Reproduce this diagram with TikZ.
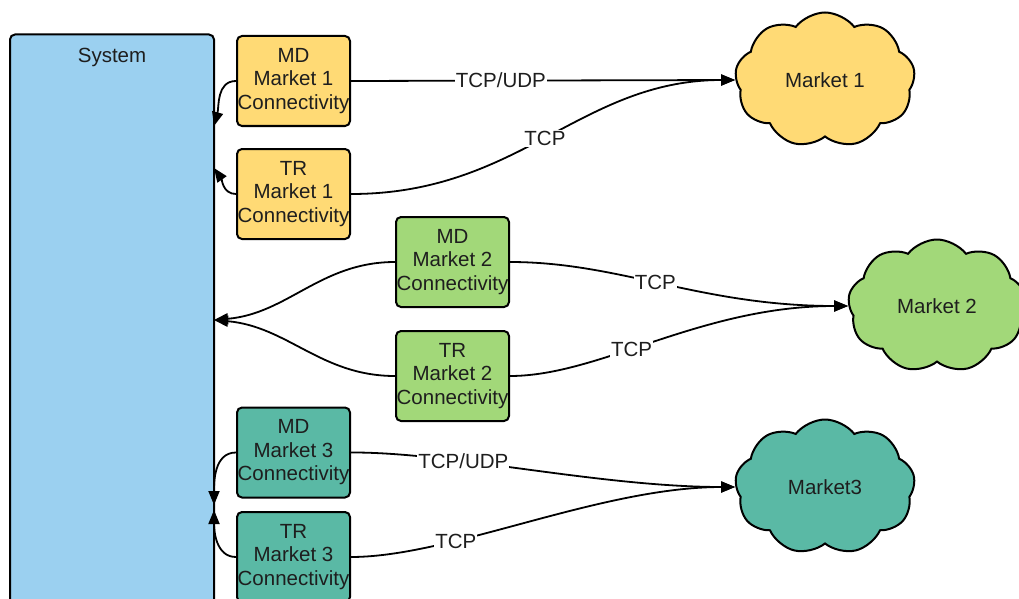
\documentclass[tikz,border=0pt]{standalone}
\usepackage{fontspec}
\setmainfont{Liberation Sans}
\usetikzlibrary{shapes.symbols,arrows.meta}
\definecolor{sysblue}{HTML}{9BD0F0}
\definecolor{myyellow}{HTML}{FFDA75}
\definecolor{mygreen}{HTML}{A2D879}
\definecolor{myteal}{HTML}{5AB9A5}
\definecolor{txt}{HTML}{1E1E1E}
\begin{document}
\begin{tikzpicture}[x=1pt,y=-1pt,
  font=\fontsize{20.5}{23.5}\selectfont, text=txt,
  conbox/.style={draw=black, line width=2pt, rounded corners=5pt, minimum width=113pt, minimum height=90pt, inner sep=0pt, align=center},
  mcloud/.style={cloud, draw=black, line width=2pt, cloud puffs=9, cloud puff arc=105, cloud ignores aspect, inner sep=0pt, minimum width=180pt, minimum height=135pt},
  arr/.style={line width=1.8pt, -{Triangle[length=14pt,width=11pt]}},
  lbl/.style={fill=white, inner sep=1pt, text=txt}
]
\useasboundingbox (0,0) rectangle (1019,599);
% system
\node[draw=black, line width=2pt, rounded corners=5pt, fill=sysblue, minimum width=204pt, minimum height=575pt, inner sep=0pt] (sys) at (112,322) {};
\node[anchor=north] (syslbl) at (112,45) {System};
% connectivity boxes
\node[conbox, fill=myyellow] (md1) at (293.5,81) {MD\\Market 1\\Connectivity};
\node[conbox, fill=myyellow] (tr1) at (293.5,194) {TR\\Market 1\\Connectivity};
\node[conbox, fill=mygreen] (md2) at (452.5,262) {MD\\Market 2\\Connectivity};
\node[conbox, fill=mygreen] (tr2) at (452.5,376) {TR\\Market 2\\Connectivity};
\node[conbox, fill=myteal] (md3) at (293.5,452.5) {MD\\Market 3\\Connectivity};
\node[conbox, fill=myteal] (tr3) at (293.5,557) {TR\\Market 3\\Connectivity};
% clouds
\node[mcloud, fill=myyellow] (m1) at (825,80) {Market 1};
\node[mcloud, fill=mygreen, minimum width=178pt, minimum height=133pt] (m2) at (937,306) {Market 2};
\node[mcloud, fill=myteal] (m3) at (825,487) {Market3};
% entry points on system
\coordinate (s1) at (214,126);
\coordinate (s2) at (214,168);
\coordinate (s3) at (214,320);
\coordinate (s4) at (214,505);
\coordinate (s5) at (214,510);
% to system
\draw[arr] (md1.west) to[out=180,in=75] (s1);
\draw[arr] (tr1.west) to[out=180,in=-55] (s2);
\draw[arr] (md2.west) to[out=180,in=5] (s3);
\draw[arr] (tr2.west) to[out=180,in=-5] (s3);
\draw[arr] (md3.west) to[out=180,in=90] (s4);
\draw[arr] (tr3.west) to[out=180,in=-90] (s5);
% to markets
\draw[arr] (md1.east) -- node[lbl, pos=0.39] {TCP/UDP} (m1.west);
\draw[arr] (tr1.east) .. controls (520,194) and (580,80) .. node[lbl, pos=0.49] {TCP} (m1.west);
\draw[arr] (md2.east) .. controls (620,262) and (700,306) .. node[lbl, pos=0.47] {TCP} (m2.west);
\draw[arr] (tr2.east) .. controls (600,376) and (700,306) .. node[lbl, pos=0.42] {TCP} (m2.west);
\draw[arr] (md3.east) .. controls (450,452) and (600,487) .. node[lbl, pos=0.33] {TCP/UDP} (m3.west);
\draw[arr] (tr3.east) .. controls (450,557) and (600,487) .. node[lbl, pos=0.31] {TCP} (m3.west);
\end{tikzpicture}
\end{document}
